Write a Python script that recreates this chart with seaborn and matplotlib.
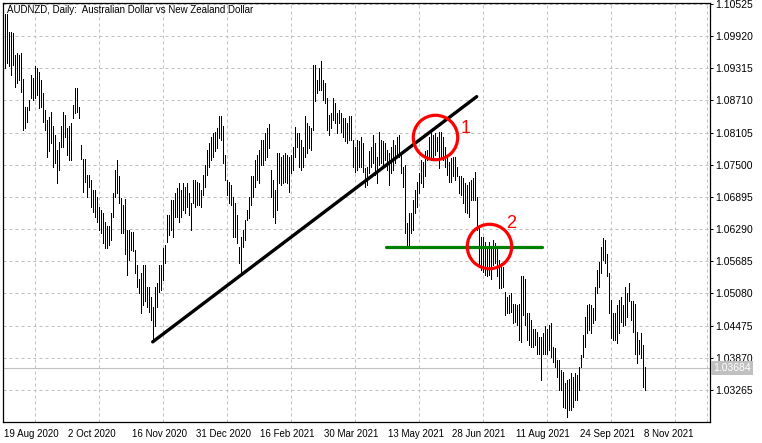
import matplotlib
matplotlib.use("Agg")
import matplotlib.pyplot as plt
import matplotlib.transforms as mtransforms
from matplotlib.ticker import FixedLocator, MultipleLocator
import numpy as np
import seaborn as sns

# AUDNZD daily bars, highs/lows (19 Aug 2020 .. Nov 2021)
highs_a = [1.1034, 1.1034, 1.1000, 1.0999, 1.0997, 1.0957, 1.0960, 1.0957, 1.0960, 1.0911,
           1.0859, 1.0859, 1.0872, 1.0919, 1.0913, 1.0936, 1.0931, 1.0925, 1.0910, 1.0884,
           1.0853, 1.0834, 1.0839, 1.0850, 1.0822, 1.0806, 1.0778, 1.0792, 1.0822, 1.0850,
           1.0844, 1.0819, 1.0822, 1.0829, 1.0862, 1.0894, 1.0894, 1.0859, 1.0787, 1.0760,
           1.0760, 1.0731, 1.0731, 1.0721, 1.0703, 1.0703, 1.0690, 1.0671, 1.0665, 1.0659,
           1.0643, 1.0634, 1.0634, 1.0659, 1.0696, 1.0740, 1.0759, 1.0728, 1.0687, 1.0674,
           1.0686, 1.0627, 1.0627, 1.0624, 1.0624, 1.0590, 1.0562, 1.0536, 1.0546, 1.0562,
           1.0562, 1.0521, 1.0521, 1.0502, 1.0483, 1.0521, 1.0527, 1.0562, 1.0562, 1.0593]
lows_a = [1.0931, 1.0941, 1.0935, 1.0919, 1.0938, 1.0897, 1.0903, 1.0910, 1.0886, 1.0815,
          1.0819, 1.0831, 1.0853, 1.0875, 1.0872, 1.0875, 1.0881, 1.0856, 1.0859, 1.0831,
          1.0815, 1.0765, 1.0775, 1.0790, 1.0746, 1.0753, 1.0716, 1.0740, 1.0784, 1.0784,
          1.0803, 1.0768, 1.0759, 1.0759, 1.0837, 1.0847, 1.0850, 1.0837, 1.0760, 1.0699,
          1.0718, 1.0690, 1.0709, 1.0671, 1.0662, 1.0652, 1.0643, 1.0627, 1.0621, 1.0602,
          1.0593, 1.0593, 1.0599, 1.0609, 1.0652, 1.0690, 1.0696, 1.0678, 1.0621, 1.0621,
          1.0583, 1.0543, 1.0571, 1.0590, 1.0587, 1.0546, 1.0521, 1.0508, 1.0471, 1.0486,
          1.0493, 1.0483, 1.0474, 1.0458, 1.0417, 1.0446, 1.0483, 1.0511, 1.0515, 1.0533]

highs_b = [1.0599, 1.0656, 1.0656, 1.0684, 1.0684, 1.0696, 1.0706, 1.0715, 1.0703, 1.0715,
           1.0709, 1.0715, 1.0696, 1.0678, 1.0721, 1.0721, 1.0718, 1.0715, 1.0703, 1.0731,
           1.0750, 1.0778, 1.0790, 1.0803, 1.0809, 1.0812, 1.0819, 1.0842, 1.0841, 1.0822,
           1.0768, 1.0721, 1.0718, 1.0712, 1.0690, 1.0678, 1.0656, 1.0596, 1.0615, 1.0627,
           1.0646, 1.0665, 1.0690, 1.0728, 1.0728, 1.0759, 1.0768, 1.0778, 1.0797, 1.0797,
           1.0809, 1.0819, 1.0826, 1.0740, 1.0721, 1.0703, 1.0772, 1.0772, 1.0765, 1.0768,
           1.0772, 1.0768, 1.0765, 1.0768, 1.0784, 1.0820, 1.0809, 1.0809, 1.0797, 1.0784,
           1.0841, 1.0828, 1.0822, 1.0819, 1.0938, 1.0938, 1.0910, 1.0931, 1.0945, 1.0910,
           1.0903]
lows_b = [1.0565, 1.0605, 1.0618, 1.0627, 1.0615, 1.0652, 1.0652, 1.0643, 1.0652, 1.0665,
          1.0659, 1.0671, 1.0656, 1.0627, 1.0678, 1.0671, 1.0674, 1.0674, 1.0671, 1.0693,
          1.0709, 1.0731, 1.0746, 1.0759, 1.0765, 1.0775, 1.0781, 1.0800, 1.0797, 1.0753,
          1.0721, 1.0693, 1.0678, 1.0674, 1.0615, 1.0615, 1.0602, 1.0565, 1.0543, 1.0596,
          1.0609, 1.0646, 1.0649, 1.0674, 1.0690, 1.0709, 1.0721, 1.0715, 1.0750, 1.0750,
          1.0759, 1.0765, 1.0781, 1.0690, 1.0652, 1.0640, 1.0665, 1.0715, 1.0712, 1.0715,
          1.0718, 1.0715, 1.0699, 1.0734, 1.0740, 1.0765, 1.0784, 1.0746, 1.0740, 1.0746,
          1.0765, 1.0772, 1.0781, 1.0778, 1.0815, 1.0869, 1.0884, 1.0891, 1.0891, 1.0872,
          1.0866]

highs_c = [1.0875, 1.0844, 1.0847, 1.0875, 1.0866, 1.0847, 1.0853, 1.0847, 1.0837, 1.0837,
           1.0828, 1.0841, 1.0841, 1.0797, 1.0784, 1.0797, 1.0794, 1.0803, 1.0790, 1.0743,
           1.0746, 1.0775, 1.0784, 1.0806, 1.0790, 1.0765, 1.0812, 1.0797, 1.0794, 1.0790,
           1.0778, 1.0772, 1.0784, 1.0797, 1.0787, 1.0803, 1.0806, 1.0772, 1.0746, 1.0750,
           1.0640, 1.0659, 1.0659, 1.0684, 1.0703, 1.0718, 1.0734, 1.0759, 1.0756, 1.0775,
           1.0778, 1.0803, 1.0812, 1.0806, 1.0809, 1.0803, 1.0812, 1.0812, 1.0803, 1.0784,
           1.0765, 1.0756, 1.0762, 1.0765, 1.0765, 1.0746, 1.0728, 1.0728, 1.0725, 1.0715,
           1.0712, 1.0718, 1.0721, 1.0725, 1.0737, 1.0690, 1.0634, 1.0615, 1.0615]
lows_c = [1.0815, 1.0806, 1.0819, 1.0834, 1.0828, 1.0809, 1.0828, 1.0812, 1.0803, 1.0794,
          1.0790, 1.0797, 1.0797, 1.0746, 1.0737, 1.0740, 1.0746, 1.0746, 1.0737, 1.0709,
          1.0712, 1.0734, 1.0746, 1.0753, 1.0731, 1.0715, 1.0750, 1.0753, 1.0746, 1.0759,
          1.0740, 1.0712, 1.0734, 1.0740, 1.0753, 1.0765, 1.0765, 1.0734, 1.0709, 1.0621,
          1.0596, 1.0596, 1.0621, 1.0627, 1.0659, 1.0671, 1.0696, 1.0715, 1.0709, 1.0728,
          1.0759, 1.0762, 1.0759, 1.0765, 1.0768, 1.0775, 1.0743, 1.0765, 1.0759, 1.0746,
          1.0731, 1.0718, 1.0718, 1.0728, 1.0721, 1.0728, 1.0696, 1.0693, 1.0678, 1.0662,
          1.0659, 1.0652, 1.0684, 1.0684, 1.0684, 1.0627, 1.0558, 1.0552, 1.0549]

highs_d = [1.0605, 1.0596, 1.0605, 1.0596, 1.0609, 1.0602, 1.0596, 1.0571, 1.0565, 1.0558,
           1.0511, 1.0502, 1.0505, 1.0508, 1.0489, 1.0489, 1.0486, 1.0489, 1.0540, 1.0540,
           1.0536, 1.0471, 1.0471, 1.0458, 1.0442, 1.0442, 1.0436, 1.0427, 1.0427, 1.0433,
           1.0446, 1.0442, 1.0449, 1.0452, 1.0408, 1.0405, 1.0383, 1.0383, 1.0364, 1.0361,
           1.0339, 1.0345, 1.0348, 1.0358, 1.0351, 1.0358, 1.0355, 1.0370, 1.0392, 1.0430,
           1.0464, 1.0486, 1.0489, 1.0486, 1.0480, 1.0521, 1.0552, 1.0568, 1.0596, 1.0612,
           1.0609, 1.0583, 1.0546, 1.0496, 1.0471, 1.0471, 1.0486, 1.0496, 1.0502, 1.0486,
           1.0521, 1.0508, 1.0527, 1.0493, 1.0493, 1.0489, 1.0436, 1.0420, 1.0433, 1.0411,
           1.0370]
lows_d = [1.0543, 1.0540, 1.0543, 1.0536, 1.0562, 1.0565, 1.0540, 1.0518, 1.0518, 1.0521,
          1.0467, 1.0471, 1.0471, 1.0474, 1.0452, 1.0455, 1.0449, 1.0420, 1.0417, 1.0467,
          1.0449, 1.0420, 1.0411, 1.0408, 1.0408, 1.0411, 1.0395, 1.0395, 1.0345, 1.0395,
          1.0395, 1.0395, 1.0402, 1.0389, 1.0380, 1.0370, 1.0351, 1.0326, 1.0326, 1.0295,
          1.0292, 1.0276, 1.0289, 1.0289, 1.0295, 1.0308, 1.0308, 1.0326, 1.0370, 1.0389,
          1.0408, 1.0433, 1.0439, 1.0433, 1.0452, 1.0458, 1.0508, 1.0521, 1.0546, 1.0571,
          1.0565, 1.0540, 1.0471, 1.0424, 1.0420, 1.0420, 1.0414, 1.0433, 1.0455, 1.0446,
          1.0449, 1.0464, 1.0493, 1.0458, 1.0436, 1.0395, 1.0377, 1.0395, 1.0386, 1.0333,
          1.0326]

date_labels = ["19 Aug 2020", "2 Oct 2020", "16 Nov 2020", "31 Dec 2020", "16 Feb 2021",
               "30 Mar 2021", "13 May 2021", "28 Jun 2021", "11 Aug 2021", "24 Sep 2021",
               "8 Nov 2021"]
price_ticks = [1.10525, 1.09920, 1.09315, 1.08710, 1.08105, 1.07500, 1.06895,
               1.06290, 1.05685, 1.05080, 1.04475, 1.03870, 1.03265]
last_price = 1.03684

# drawn objects on the chart
trend_end_bar, trend_end_price = 237, 1.0878
support_start, support_end, support_price = 191.6, 269.5, 1.0595
circle_bars = [215.9, 243.2]
circle_prices = [1.0803, 1.0598]
label_bars = [231.4, 254.4]
label_prices = [1.0818, 1.0640]
label_texts = ["1", "2"]

highs = highs_a + highs_b + highs_c + highs_d
lows = lows_a + lows_b + lows_c + lows_d
bars = np.arange(1, len(highs) + 1)

sns.set_theme(style="white")
plt.rcParams["font.family"] = ["Liberation Sans", "DejaVu Sans"]

W, H = 762, 443
fig = plt.figure(figsize=(W / 100, H / 100), dpi=100)
l, r, t, b = 2.7, 710, 2.7, 421.5
ax = fig.add_axes([l / W, 1 - b / H, (r - l) / W, (b - t) / H])
ax.set_facecolor("white")

ax.set_xlim(0, (r - l) / 2)
ax.set_ylim(1.02673, 1.10546)

# grid
ax.xaxis.set_major_locator(FixedLocator(list(range(0, 321, 32))))
ax.xaxis.set_minor_locator(MultipleLocator(16))
ax.set_yticks(price_ticks)
ax.grid(which="minor", axis="x", color="#c0c0c0", linestyle=(0, (3, 3)), linewidth=0.72)
ax.grid(which="major", axis="y", color="#c0c0c0", linestyle=(0, (3, 3)), linewidth=0.72)
ax.set_axisbelow(True)

ax.axhline(last_price, color="#c0c0c0", linewidth=0.8, zorder=1)

# OHLC bars (high-low only at this zoom)
ax.vlines(bars, lows, highs, colors="black", linewidth=0.5, antialiased=False, zorder=3)

# trend line from the November low
low_bar = int(np.argmin(lows[:100])) + 1
sns.lineplot(x=[low_bar, trend_end_bar], y=[lows[low_bar - 1], trend_end_price], ax=ax,
             color="black", linewidth=2.4, zorder=4)
sns.lineplot(x=[support_start, support_end], y=[support_price, support_price], ax=ax,
             color="#008000", linewidth=2.3, zorder=4)

ax.plot(circle_bars, circle_prices, "o", ms=32, mfc="none", mec="#ff0000", mew=2.3, zorder=5)
for xb, yp, s in zip(label_bars, label_prices, label_texts):
    ax.text(xb, yp, s, color="#ff0000", fontsize=13, ha="center", va="center", zorder=5)

# axes styling
for sp in ax.spines.values():
    sp.set_color("black")
    sp.set_linewidth(0.9)
ax.yaxis.tick_right()
ax.tick_params(axis="y", which="major", direction="out", length=2.5, width=0.7,
               colors="black", labelsize=7.5, pad=1.5)
ax.tick_params(axis="x", which="major", direction="out", length=3, width=0.7,
               colors="black", labelsize=7, pad=2.5)
ax.tick_params(axis="x", which="minor", length=0)
ax.set_yticklabels([f"{p:.5f}" for p in price_ticks])
ax.set_xticklabels(date_labels)
shift = mtransforms.ScaledTranslation(1 / 100, 0, fig.dpi_scale_trans)
for lab in ax.get_xticklabels():
    lab.set_horizontalalignment("left")
    lab.set_transform(lab.get_transform() + shift)

ax.text(0.0061, 0.9761, "AUDNZD, Daily:  Australian Dollar vs New Zealand Dollar",
        transform=ax.transAxes, fontsize=7, color="black", va="baseline", ha="left")

tag_trans = mtransforms.blended_transform_factory(ax.transAxes, ax.transData)
ax.text(1.004, last_price, f"{last_price:.5f}", transform=tag_trans, fontsize=7.5,
        color="white", va="center", ha="left", zorder=6, clip_on=False,
        bbox=dict(boxstyle="square,pad=0.2", facecolor="#c0c0c0", edgecolor="none"))

fig.savefig("out.png", dpi=100)
